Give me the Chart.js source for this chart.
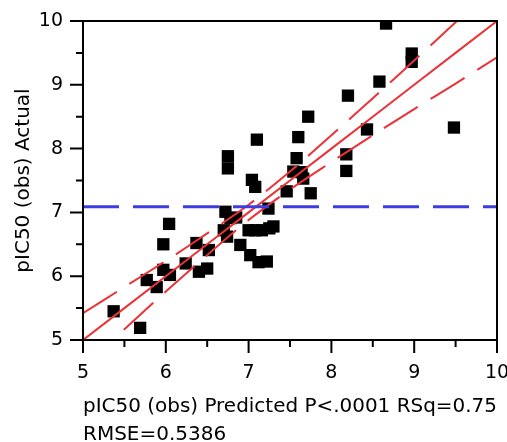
<!DOCTYPE html>
<html>
<head>
<meta charset="utf-8">
<script src="https://cdn.jsdelivr.net/npm/chart.js@4.4.1/dist/chart.umd.min.js"></script>
<style>
  html, body { margin: 0; padding: 0; background: #fff; }
  #wrap { width: 507px; height: 442px; }
</style>
</head>
<body>
<div id="wrap"><canvas id="chart" width="507" height="442"></canvas></div>
<script>
// predicted (x) vs actual (y) values
const predicted = [5.37, 5.69, 5.77, 5.89, 5.97, 5.97, 6.04, 6.05, 6.24, 6.37,
                   6.40, 6.50, 6.52, 6.75, 6.75, 6.72, 6.78, 6.85, 6.70, 6.74,
                   6.90, 7.00, 7.08, 7.16, 7.30, 7.25, 7.02, 7.12, 7.22, 7.24,
                   7.04, 7.08, 7.10, 7.46, 7.54, 7.64, 7.66, 7.75, 7.58, 7.60,
                   7.72, 8.18, 8.18, 8.20, 8.43, 8.58, 8.66, 8.97, 8.97, 9.48];
const actual    = [5.45, 5.19, 5.94, 5.83, 6.50, 6.10, 6.82, 6.02, 6.20, 6.52,
                   6.07, 6.12, 6.41, 7.88, 7.69, 7.01, 6.91, 6.92, 6.72, 6.62,
                   6.49, 6.72, 6.72, 6.72, 6.78, 6.75, 6.33, 6.22, 6.23, 7.06,
                   7.51, 7.40, 8.14, 7.33, 7.64, 7.63, 7.53, 7.30, 7.85, 8.18,
                   8.50, 7.91, 7.65, 8.83, 8.30, 9.05, 9.96, 9.49, 9.36, 8.33];

// fit line and confidence curves
const bandX     = [5, 5.5, 6, 6.5, 7, 7.5, 8, 8.5, 9, 9.5, 10];
const fitY      = [5, 5.5, 6, 6.5, 7, 7.5, 8, 8.5, 9, 9.5, 10];
const upperY    = [5.42, 5.83, 6.24, 6.67, 7.12, 7.64, 8.21, 8.79, 9.38, 9.98, 10.57];
const lowerY    = [4.58, 5.17, 5.76, 6.33, 6.88, 7.36, 7.79, 8.21, 8.62, 9.02, 9.43];
const meanX     = [5, 10];
const meanY     = [7.09, 7.09];

const ticks = [5, 6, 7, 8, 9, 10];

Chart.defaults.font.family = 'DejaVu Sans';
Chart.defaults.color = '#000';

const pts = (xs, ys) => xs.map((x, i) => ({ x: x, y: ys[i] }));

// frame + major/minor tick marks
const frame = {
  id: 'frame',
  afterDraw(chart) {
    const { ctx, chartArea: a } = chart;
    const sx = chart.scales.x, sy = chart.scales.y;
    ctx.save();
    ctx.strokeStyle = '#000';
    ctx.lineWidth = 2;
    ctx.strokeRect(a.left, a.top, a.right - a.left, a.bottom - a.top);
    for (let v = 5; v <= 10.001; v += 0.5) {
      const major = Math.abs(v - Math.round(v)) < 0.01;
      const len = major ? 13 : 7;
      const px = sx.getPixelForValue(v);
      const py = sy.getPixelForValue(v);
      ctx.beginPath();
      ctx.moveTo(px, a.bottom); ctx.lineTo(px, a.bottom + len);
      ctx.moveTo(a.left, py); ctx.lineTo(a.left - len, py);
      ctx.stroke();
    }
    ctx.restore();
  }
};

new Chart(document.getElementById('chart'), {
  type: 'scatter',
  data: {
    datasets: [
      {
        label: 'mean',
        data: pts(meanX, meanY),
        showLine: true, pointRadius: 0,
        borderColor: 'rgb(60,60,225)', borderWidth: 3,
        borderDash: [36, 14]
      },
      {
        label: 'fit',
        data: pts(bandX, fitY),
        showLine: true, pointRadius: 0,
        borderColor: 'rgb(235,50,55)', borderWidth: 2
      },
      {
        label: 'upper',
        data: pts(bandX, upperY),
        showLine: true, pointRadius: 0, tension: 0.3,
        borderColor: 'rgb(235,50,55)', borderWidth: 2,
        borderDash: [40, 15]
      },
      {
        label: 'lower',
        data: pts(bandX, lowerY),
        showLine: true, pointRadius: 0, tension: 0.3,
        borderColor: 'rgb(235,50,55)', borderWidth: 2,
        borderDash: [40, 15]
      },
      {
        label: 'obs',
        data: pts(predicted, actual),
        pointStyle: 'rect',
        pointRadius: 8.7,
        pointBorderWidth: 0,
        backgroundColor: '#000',
        borderColor: '#000'
      }
    ]
  },
  options: {
    responsive: false,
    animation: false,
    layout: { padding: { top: 21, right: 0, left: 0, bottom: 0 } },
    plugins: { legend: { display: false }, tooltip: { enabled: false } },
    scales: {
      x: {
        type: 'linear', min: 5, max: 10,
        afterBuildTicks: s => { s.ticks = ticks.map(v => ({ value: v })); },
        afterFit: s => { s.height = 102; s.paddingLeft = 0; s.paddingRight = 10; },
        grid: { display: false, drawTicks: true, tickLength: 13 },
        border: { display: false },
        ticks: { font: { size: 19 }, padding: 9, maxRotation: 0 },
        title: {
          display: true,
          text: ['pIC50 (obs) Predicted P<.0001 RSq=0.75', 'RMSE=0.5386'],
          align: 'start',
          font: { size: 20, lineHeight: 1.4 },
          padding: { top: 0, bottom: -7 }
        }
      },
      y: {
        type: 'linear', min: 5, max: 10,
        afterBuildTicks: s => { s.ticks = ticks.map(v => ({ value: v })); },
        afterFit: s => { s.width = 83; },
        grid: { display: false, drawTicks: true, tickLength: 13 },
        border: { display: false },
        ticks: { font: { size: 19 }, padding: 7 },
        title: {
          display: true,
          text: 'pIC50 (obs) Actual',
          font: { size: 20 },
          padding: { top: 12, bottom: 0 }
        }
      }
    }
  },
  plugins: [frame]
});
</script>
</body>
</html>
